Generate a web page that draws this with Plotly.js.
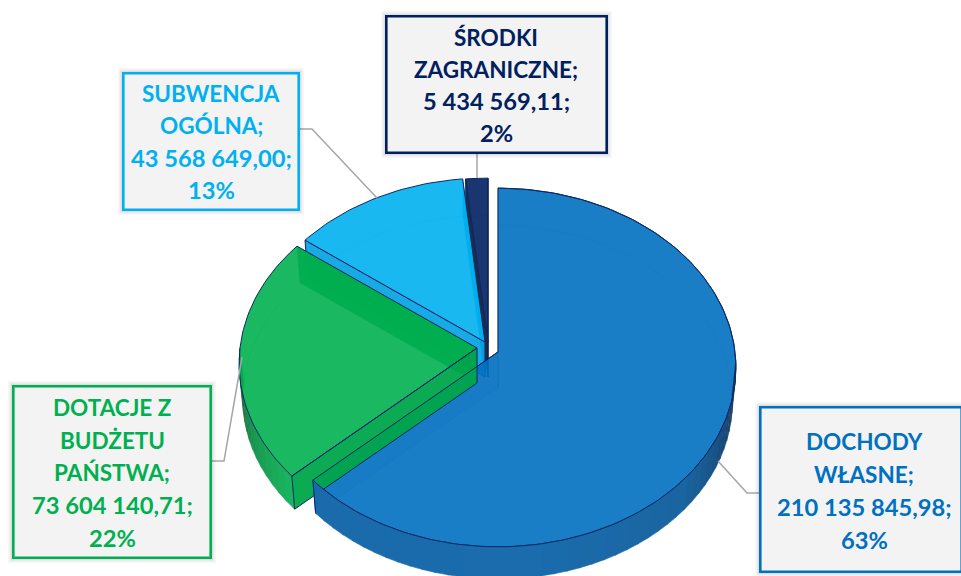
<!DOCTYPE html>
<html>
<head>
<meta charset="utf-8">
<script src="https://cdn.plot.ly/plotly-3.0.1.min.js"></script>
<style>html,body{margin:0;padding:0;background:#fff;overflow:hidden}#chart{width:961px;height:576px}</style>
</head>
<body>
<div id="chart"></div>
<script>
// ---- data ----
const categories = ["DOCHODY WŁASNE", "DOTACJE Z BUDŻETU PAŃSTWA", "SUBWENCJA OGÓLNA", "ŚRODKI ZAGRANICZNE"];
const amounts = [210135845.98, 73604140.71, 43568649.00, 5434569.11];
const amountLabels = ["210 135 845,98;", "73 604 140,71;", "43 568 649,00;", "5 434 569,11;"];
const percentLabels = ["63%", "22%", "13%", "2%"];
const nameLines = [["DOCHODY", "WŁASNE;"], ["DOTACJE Z", "BUDŻETU", "PAŃSTWA;"], ["SUBWENCJA", "OGÓLNA;"], ["ŚRODKI", "ZAGRANICZNE;"]];

// ---- styling ----
const baseRGB = [[0,112,192],[0,176,80],[0,176,240],[0,32,96]];
const edge = "#0a2868";
const labelColors = ["#0070C0","#00B050","#00B0F0","#002060"];
const cutWallFill = ["rgba(0,70,140,0.10)","rgba(0,150,70,0.9)","rgba(0,150,215,0.9)","rgba(15,20,40,0.9)"];
const frontCutFill = ["rgba(0,70,140,0.10)","rgba(0,165,75,0.95)","rgba(0,160,225,0.9)","rgba(15,20,40,0.9)"];
const wallEdge = ["rgba(0,50,110,0.22)","rgba(10,50,80,0.22)","rgba(10,50,110,0.25)","rgba(10,20,50,0.8)"];
// outer wall shading stops: [theta, colour]
const wallStops = [
  [[92,[22,50,80]],[108,[24,72,115]],[130,[26,100,160]],[170,[26,108,172]],[230,[26,106,172]]],
  [[225,[26,184,96]],[245,[26,150,80]],[258,[30,110,60]],[270,[30,80,50]]]
];
const wallFromTo = [[92,null],[null,270]];

// ---- projection (pixel-valued axes) ----
const apex = [498, 352], Rx = 237, Ry = 178, persp = 0.0863, depth = 35, bottomScale = 0.985;
const explode = [[0,0],[-21,-4],[-13,-10],[-10,-10]];
function proj(thetaDeg, off, low) {
  const t = thetaDeg*Math.PI/180, u = Math.sin(t), v = -Math.cos(t), s = 1/(1-persp*v), k = low ? bottomScale : 1;
  return [apex[0]+off[0]+k*Rx*u*s, apex[1]+off[1]+(low?depth:0)+k*Ry*v*s];
}
function arc(a, b, off, low) {
  const n = Math.max(2, Math.ceil(Math.abs(b-a)/1.5)), pts = [];
  for (let i=0;i<=n;i++) pts.push(proj(a+(b-a)*i/n, off, low));
  return pts;
}
function poly(pts, fill, lineColor, lineWidth) {
  return {type:"scatter", mode:"lines", x:pts.map(p=>p[0]), y:pts.map(p=>p[1]), fill:"toself", fillcolor:fill,
          line:{color:lineColor, width:lineWidth, shape:"linear"}, hoverinfo:"skip", showlegend:false};
}
function stroke(pts, color, width){
  return {type:"scatter",mode:"lines",x:pts.map(p=>p[0]),y:pts.map(p=>p[1]),line:{color,width},hoverinfo:"skip",showlegend:false};
}
function rgba(c,a){return `rgba(${c[0]},${c[1]},${c[2]},${a})`;}
function stopColor(stops, th){
  if (th<=stops[0][0]) return stops[0][1];
  for (let i=1;i<stops.length;i++){
    if (th<=stops[i][0]){
      const f=(th-stops[i-1][0])/(stops[i][0]-stops[i-1][0]);
      return stops[i-1][1].map((c,j)=>Math.round(c+(stops[i][1][j]-c)*f));
    }
  }
  return stops[stops.length-1][1];
}

const total = amounts.reduce((a,b)=>a+b,0);
let acc = 0;
const spans = amounts.map(v=>{const a=acc; acc+=v/total*360; return [a,acc];});
const apexOf = i => [apex[0]+explode[i][0], apex[1]+explode[i][1]];
const lowApexOf = i => { const p = apexOf(i); return [p[0], p[1]+depth]; };

function outerWall(i){
  const [a,b]=spans[i], off=explode[i], out=[];
  const from = wallFromTo[i][0]===null ? a : wallFromTo[i][0];
  const to = wallFromTo[i][1]===null ? b : wallFromTo[i][1];
  for (let t=from; t<to; t+=3) {
    const e=Math.min(t+3.4,to), col=rgba(stopColor(wallStops[i],t),1);
    out.push(poly([...arc(t,e,off,false),...arc(e,t,off,true)], col, col, 0.5));
  }
  return out;
}
function frontCut(i){
  const off=explode[i], a=spans[i][0];
  return [apexOf(i), proj(a,off,false), proj(a,off,true), lowApexOf(i), apexOf(i)];
}

const traces = [];
for (const i of [3,2,1,0]) {
  const [a,b] = spans[i], off = explode[i], c = baseRGB[i];
  traces.push(stroke(arc(a,b,off,true),"rgba(0,40,90,0.16)",1));
  traces.push(poly([apexOf(i),proj(b,off,false),proj(b,off,true),lowApexOf(i),apexOf(i)], cutWallFill[i], wallEdge[i], 1));
  if (i===1) traces.push(...outerWall(1));
  if (i===0 || i>1) traces.push(poly(frontCut(i), frontCutFill[i], i===0?wallEdge[0]:edge, 1));
  traces.push(poly([apexOf(i),...arc(a,b,off,false),apexOf(i)], rgba(c,0.9), edge, 1));
}
// the green cut wall sits in front of the large slice's top, its curved wall in front of both
traces.push(poly(frontCut(1), frontCutFill[1], edge, 1));
traces.push(stroke([apexOf(1), proj(spans[1][0],explode[1],false)], edge, 1));
traces.push(...outerWall(0));
traces.push(stroke(arc(spans[0][0],spans[0][1],explode[0],false), edge, 1));
traces.push(stroke([apexOf(0), proj(spans[0][1],explode[0],false), proj(spans[0][1],explode[0],true)], edge, 1));

// ---- data labels ----
const boxes = [[759,406,963,573],[12,385,212,559],[122,72,300,211],[385,15,608,154]];
const lineYs = [[441,474,507,540],[407,440,472,505,538],[93,125,158,190],[37,69,101,133]];
const lineX = [864,112,211,496];
const leaders = ["M718,461 L747,493 L759,493","M242,357 L224,461 L212,461","M377,198 L312,129 L300,129","M477,178 L477,154"];

const shapes = [], annotations = [];
leaders.forEach(p=>shapes.push({type:"path",path:p,xref:"x",yref:"y",line:{color:"#A6A6A6",width:1.5}}));
boxes.forEach((r,i)=>{
  [[4,0.03],[2.5,0.045],[1.2,0.06]].forEach(([g,al])=>shapes.push({type:"rect",xref:"x",yref:"y",
    x0:r[0]-g,y0:r[1]-g,x1:r[2]+g,y1:r[3]+g,line:{width:0},fillcolor:`rgba(0,0,0,${al})`}));
  shapes.push({type:"rect",xref:"x",yref:"y",x0:r[0]+1.3,y0:r[1]+1.3,x1:r[2]-1.3,y1:r[3]-1.3,
    fillcolor:"#F3F3F3",line:{color:labelColors[i],width:2.6}});
  const lines=[...nameLines[i],amountLabels[i],percentLabels[i]];
  const amountIdx=nameLines[i].length;
  lines.forEach((t,j)=>annotations.push({x:lineX[i],y:lineYs[i][j],xref:"x",yref:"y",text:t,showarrow:false,
    xanchor:"center",yanchor:"middle",
    font:{family:"Lato, 'Open Sans', sans-serif",size:j>=amountIdx?23.7:22.5,color:labelColors[i],weight:700}}));
});

Plotly.newPlot("chart", traces, {
  width:961, height:576, margin:{l:0,r:0,t:0,b:0}, paper_bgcolor:"#fff", plot_bgcolor:"#fff", showlegend:false,
  xaxis:{range:[0,961],visible:false,fixedrange:true},
  yaxis:{range:[576,0],visible:false,fixedrange:true},
  shapes, annotations, hovermode:false
},{displayModeBar:false,staticPlot:true});
</script>
</body>
</html>
